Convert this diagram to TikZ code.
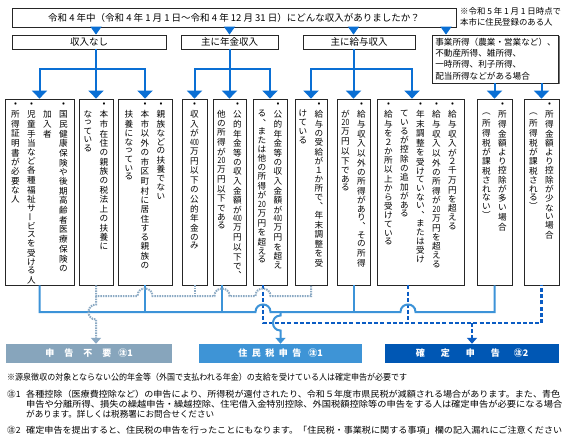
\documentclass[tikz,border=0pt]{standalone}
\usepackage{fontspec}
\setmainfont{Noto Sans CJK JP}
\usepackage{graphicx}
\usetikzlibrary{arrows.meta,calc,shadows}
\definecolor{abl}{HTML}{0A6FD4}
\definecolor{dotc}{HTML}{8CAAC4}
\definecolor{solc}{HTML}{3C93D8}
\definecolor{dshc}{HTML}{0A5CC4}
\definecolor{barA}{HTML}{87A5BC}
\definecolor{barB}{HTML}{3E94D6}
\definecolor{barC}{HTML}{0057B4}
\makeatletter
\def\vcH{9.7pt}
\def\vc@test#1#2\vc@end{%
  \gdef\vcH{9.7pt}%
  \def\vc@tmp{#2}%
  \ifx\vc@tmp\@empty
    \ifcat\noexpand#1\relax\else
      \ifnum`#1>"303F \ifnum`#1<"30FF \gdef\vcH{8.7pt}\fi\fi
      \ifnum`#1>"FE0F \ifnum`#1<"FE50 \gdef\vcH{9pt}\fi\fi
      \ifnum`#1>"FF0F \ifnum`#1<"FF1A \gdef\vcH{8.8pt}\fi\fi
    \fi
  \fi}
\newcommand\vcol[1]{\vtop{\offinterlineskip\@tfor\vc@i:=#1\do{%
  \expandafter\vc@test\vc@i\vc@end
  \setbox0\hbox{\vc@i}%
  \hbox to 16pt{\hss\vbox to \vcH{\vss\box0\vss}\hss}}}}
\makeatother
\newcommand\bul{\hbox to 9pt{\hss•\hss}}
\newcommand\ind{\hbox to 9pt{}}
\newcommand\dg[1]{\gdef\vcH{9pt}\scalebox{0.62}[1]{#1}}
\newcommand\dgb[1]{\gdef\vcH{9pt}\scalebox{0.8}[1]{#1}}
\newcommand\vbar{\gdef\vcH{8.7pt}\rotatebox[origin=c]{90}{ー}}
\newcommand\vf{\fontsize{8.6}{9.7}\selectfont}
\begin{document}
\begin{tikzpicture}[x=1pt,y=-1pt,
  box/.style={draw=black!85, line width=0.8pt, inner sep=0pt, fill=white,
    drop shadow={shadow xshift=0.9pt, shadow yshift=-0.9pt, fill=black!55, opacity=1}},
  vtxt/.style={anchor=north, inner sep=0pt, font=\vf},
  lbl/.style={font=\fontsize{9.5}{11}\selectfont},
  ln/.style={draw=abl, line width=2pt},
  arr/.style={draw=abl, line width=2pt, -{Triangle[width=15pt,length=8pt]}},
  tri/.style={draw=abl, line width=1pt, -{Triangle[width=11pt,length=8pt]}},
  sol/.style={draw=solc, line width=2pt},
  dot/.style={draw=dotc, line width=2pt, dash pattern=on 1.5pt off 1pt},
  dsh/.style={draw=dshc, line width=2.2pt, dash pattern=on 4pt off 2.2pt},
  bartip/.style={-{Triangle[width=10pt,length=6pt]}},
  bar/.style={inner sep=0pt, minimum height=19, text=white, font=\fontsize{9}{10}\selectfont\bfseries},
  fn/.style={inner sep=0pt, anchor=west, font=\fontsize{8.6}{9}\selectfont}
]
\useasboundingbox (0,0) rectangle (570,447);
\fill[white] (0,0) rectangle (570,447);

% top
\node[box, minimum width=444, minimum height=19, lbl] (top) at (234,17.5)
  {令和 4 年中（令和 4 年 1 月 1 日～令和 4 年 12 月 31 日）にどんな収入がありましたか？};
\node[inner sep=0pt, anchor=north west, align=left, font=\fontsize{8.4}{11}\selectfont] (note) at (460,7)
  {※令和 5 年 1 月 1 日時点で\\本市に住民登録のある人};

% level 2
\node[box, minimum width=154, minimum height=14, lbl] (l1) at (89,42) {収入なし};
\node[box, minimum width=97, minimum height=14, lbl] (l2) at (229.5,42) {主に年金収入};
\node[box, minimum width=112, minimum height=14, lbl] (l3) at (359,42) {主に給与収入};
\node[box, minimum width=117, minimum height=48, align=left, inner xsep=3pt,
  font=\fontsize{8.6}{11.3}\selectfont] (l4) at (495.5,59)
  {事業所得（農業・営業など）、\\不動産所得、雑所得、\\一時所得、利子所得、\\配当所得などがある場合};

% level 3 boxes
\node[box, minimum width=69, minimum height=186] (b1) at (39.5,192) {};
\node[box, minimum width=34, minimum height=186] (b2) at (96,192) {};
\node[box, minimum width=54, minimum height=186] (b3) at (145,192) {};
\node[box, minimum width=25, minimum height=186] (b4) at (194.5,192) {};
\node[box, minimum width=33, minimum height=186] (b5) at (229.5,192) {};
\node[box, minimum width=34, minimum height=186] (b6) at (270,192) {};
\node[box, minimum width=32, minimum height=186] (b7) at (311,192) {};
\node[box, minimum width=33, minimum height=186] (b8) at (353.5,192) {};
\node[box, minimum width=87, minimum height=186] (b9) at (420.5,192) {};
\node[box, minimum width=35, minimum height=186] (b10) at (494.5,192) {};
\node[box, minimum width=35, minimum height=186] (b11) at (541.5,192) {};

\node[vtxt] (t1) at ($(b1.north)+(0,1)$) {\hbox{%
  \vcol{{\bul}所得証明書が必要な人}%
  \vcol{{\bul}児童手当など各種福祉サ{\vbar}ビスを受ける人}%
  \vcol{{\ind}加入者}%
  \vcol{{\bul}国民健康保険や後期高齢者医療保険の}}};
\node[vtxt] (t2) at ($(b2.north)+(0,1)$) {\hbox{%
  \vcol{{\ind}なっている}%
  \vcol{{\bul}本市在住の親族の税法上の扶養に}}};
\node[vtxt] (t3) at ($(b3.north)+(0,1)$) {\hbox{%
  \vcol{{\ind}扶養になっている}%
  \vcol{{\bul}本市以外の市区町村に居住する親族の}%
  \vcol{{\bul}親族などの扶養でない}}};
\node[vtxt] (t4) at ($(b4.north)+(0,1)$) {\hbox{%
  \vcol{{\bul}収入が{\dg{400}}万円以下の公的年金のみ}}};
\node[vtxt] (t5) at ($(b5.north)+(0,1)$) {\hbox{%
  \vcol{{\ind}他の所得が{\dgb{20}}万円以下である}%
  \vcol{{\bul}公的年金等の収入金額が{\dg{400}}万円以下で︑}}};
\node[vtxt] (t6) at ($(b6.north)+(0,1)$) {\hbox{%
  \vcol{{\ind}る︑または他の所得が{\dgb{20}}万円を超える}%
  \vcol{{\bul}公的年金等の収入金額が{\dg{400}}万円を超え}}};
\node[vtxt] (t7) at ($(b7.north)+(0,1)$) {\hbox{%
  \vcol{{\ind}けている}%
  \vcol{{\bul}給与の受給が１か所で︑年末調整を受}}};
\node[vtxt] (t8) at ($(b8.north)+(0,1)$) {\hbox{%
  \vcol{{\ind}が{\dgb{20}}万円以下である}%
  \vcol{{\bul}給与収入以外の所得があり︑その所得}}};
\node[vtxt] (t9) at ($(b9.north)+(0,1)$) {\hbox{%
  \vcol{{\bul}給与を２か所以上から受けている}%
  \vcol{{\ind}ているが控除の追加がある}%
  \vcol{{\bul}年末調整を受けていない︑または受け}%
  \vcol{{\bul}給与収入以外の所得が{\dgb{20}}万円を超える}%
  \vcol{{\bul}給与収入が２千万円を超える}}};
\node[vtxt] (t10) at ($(b10.north)+(0,1)$) {\hbox{%
  \vcol{{\ind}︵所得税が課税されない︶}%
  \vcol{{\bul}所得金額より控除が多い場合}}};
\node[vtxt] (t11) at ($(b11.north)+(0,1)$) {\hbox{%
  \vcol{{\ind}︵所得税が課税される︶}%
  \vcol{{\bul}所得金額より控除が少ない場合}}};

% bars
\node[bar, fill=barA, minimum width=166] (bar1) at (89,353.5)
  {申\hspace{10pt}告\hspace{10pt}不\hspace{10pt}要\hspace{7pt}㊟1};
\node[bar, fill=barB, minimum width=163] (bar2) at (280.5,353.5)
  {住\hspace{4.5pt}民\hspace{4.5pt}税\hspace{4.5pt}申\hspace{4.5pt}告\hspace{7pt}㊟1};
\node[bar, fill=barC, minimum width=174] (bar3) at (472,353.5)
  {確\hspace{16pt}定\hspace{16pt}申\hspace{16pt}告\hspace{14pt}㊟2};

% footnotes
\node[fn] (f1) at (7,377) {\resizebox{400pt}{\height}{※源泉徴収の対象とならない公的年金等（外国で支払われる年金）の支給を受けている人は確定申告が必要です}};
\node[fn] (f2n) at (7,394) {㊟1};
\node[fn] (f2) at (26,394) {\resizebox{534pt}{\height}{各種控除（医療費控除など）の申告により、所得税が還付されたり、令和５年度市県民税が減額される場合があります。また、青色}};
\node[fn] (f3) at (26,404) {\resizebox{536pt}{\height}{申告や分離所得、損失の繰越申告・繰越控除、住宅借入金特別控除、外国税額控除等の申告をする人は確定申告が必要になる場合}};
\node[fn] (f4) at (26,414) {\resizebox{188pt}{\height}{があります。詳しくは税務署にお問合せください}};
\node[fn] (f5n) at (7,430) {㊟2};
\node[fn] (f5) at (26,430) {\resizebox{536pt}{\height}{確定申告を提出すると、住民税の申告を行ったことにもなります。「住民税・事業税に関する事項」欄の記入漏れにご注意ください}};

% helper coordinates
\coordinate (yA) at (0,69);
\coordinate (yD) at (0,296);
\coordinate (yS) at (0,312);
\coordinate (yK) at (0,323);
\coordinate (x4) at (446,0);
\coordinate (a9) at ($(b9.north)+(-8.5,0)$);
\coordinate (s5) at ($(b5.south)+(-7.5,0)$);
\coordinate (d6) at ($(b6.south)+(-7,0)$);
\coordinate (d9) at ($(b9.south)+(-12.5,0)$);

% top triangles
\draw[tri] (top.south -| b2.north) -- (l1.north -| b2.north);
\draw[tri] (top.south -| l2.north) -- (l2.north);
\draw[tri] (top.south -| b8.north) -- (l3.north -| b8.north);
\draw[tri] (top.south -| x4) -- (l4.north -| x4);

% level 2 -> level 3
\draw[ln] (l1.south -| b2.north) -- (b2.north |- yA);
\draw[arr] (b2.north |- yA) -| (b1.north);
\draw[arr] (b2.north |- yA) -- (b2.north);
\draw[arr] (b2.north |- yA) -| (b3.north);
\draw[ln] (l2.south) -- (l2.south |- yA);
\draw[arr] (l2.south |- yA) -| (b4.north);
\draw[arr] (l2.south |- yA) -- (b5.north);
\draw[arr] (l2.south |- yA) -| (b6.north);
\draw[ln] (l3.south -| b8.north) -- (b8.north |- yA);
\draw[arr] (b8.north |- yA) -| (b7.north);
\draw[arr] (b8.north |- yA) -- (b8.north);
\draw[arr] (b8.north |- yA) -| (a9);
\draw[arr] (l4.south -| b10.north) -- (b10.north);
\draw[arr] (l4.south -| b11.north) -- (b11.north);

% dashed (kakutei)
\draw[dsh] (d6) -- (d6 |- yK) -- (b11.south |- yK) -- (b11.south);
\draw[dsh] (d9) -- (d9 |- yK);
\draw[dsh, bartip] (bar3.north |- yK) -- (bar3.north);

% solid (juminzei)
\draw[sol] (b1.south) -- (b1.south |- yS) -- (255.5,312) .. controls (255.5,302) and (270.5,302) .. (270.5,312)
  -- (400.5,312) .. controls (400.5,302) and (415.5,302) .. (415.5,312) -- (b10.south |- yS) -- (b10.south);
\draw[sol] (b3.south) -- (b3.south |- yS);
\draw[sol] (s5) -- (s5 |- yS);
\draw[sol] (b8.south) -- (b8.south |- yS);
\draw[sol, bartip] (bar2.north |- yS) -- (280.5,315.5) .. controls (270.5,315.5) and (270.5,330.5) .. (280.5,330.5) -- (bar2.north);

% dotted (fuyou)
\draw[dot] (b2.south) -- (b2.south |- yD) -- (137.5,296) .. controls (137.5,286) and (152.5,286) .. (152.5,296)
  -- (214.5,296) .. controls (214.5,286) and (229.5,286) .. (229.5,296)
  -- (255.5,296) .. controls (255.5,286) and (270.5,286) .. (270.5,296) -- (b7.south |- yD) -- (b7.south);
\draw[dot] (b4.south) -- (b4.south |- yD);
\draw[dot, bartip] (b2.south |- yD) -- (96,304.5) .. controls (86,304.5) and (86,319.5) .. (96,319.5) -- (bar1.north -| b2.south);
\end{tikzpicture}
\end{document}
